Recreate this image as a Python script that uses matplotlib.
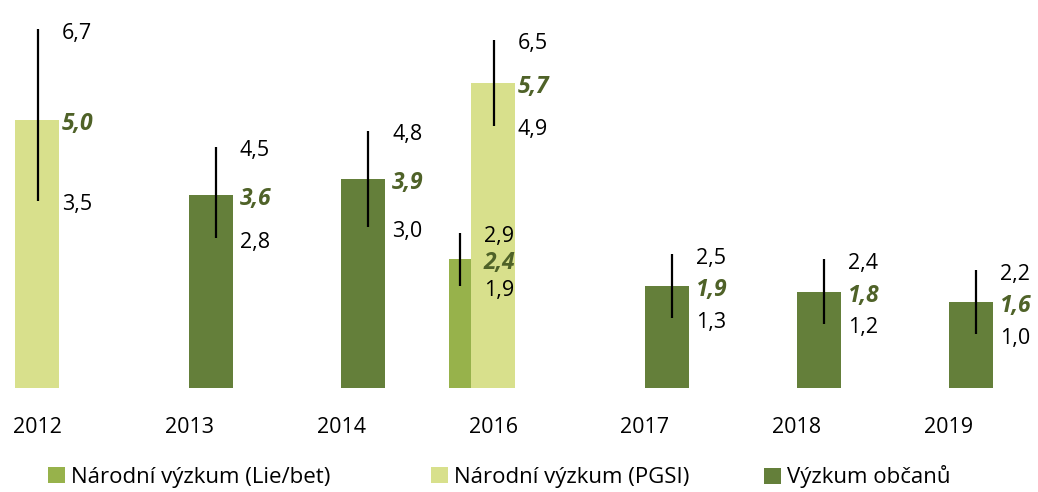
import numpy as np
import matplotlib.pyplot as plt
from matplotlib.patches import Patch

plt.rcParams['font.family'] = ['Open Sans', 'DejaVu Sans']

nan = np.nan
years = ['2012', '2013', '2014', '2016', '2017', '2018', '2019']

# Národní výzkum (Lie/bet)
lie_bet = [nan, nan, nan, 2.4, nan, nan, nan]
lie_bet_lo = [nan, nan, nan, 1.9, nan, nan, nan]
lie_bet_hi = [nan, nan, nan, 2.9, nan, nan, nan]

# Národní výzkum (PGSI)
pgsi = [5.0, nan, nan, 5.7, nan, nan, nan]
pgsi_lo = [3.5, nan, nan, 4.9, nan, nan, nan]
pgsi_hi = [6.7, nan, nan, 6.5, nan, nan, nan]

# Výzkum občanů
obcanu = [nan, 3.6, 3.9, nan, 1.9, 1.8, 1.6]
obcanu_lo = [nan, 2.8, 3.0, nan, 1.3, 1.2, 1.0]
obcanu_hi = [nan, 4.5, 4.8, nan, 2.5, 2.4, 2.2]

names = ['Národní výzkum (Lie/bet)', 'Národní výzkum (PGSI)', 'Výzkum občanů']
colors = ['#97b24b', '#d8e08c', '#647f3a']
label_color = '#4f6228'

px = 1 / 152.0  # one pixel in category units
# (values, lo, hi, bar offset, bar width, errorbar offset) in pixels
series = [
    (lie_bet, lie_bet_lo, lie_bet_hi, -33, 22, -33),
    (pgsi, pgsi_lo, pgsi_hi, 0, 44, 1),
    (obcanu, obcanu_lo, obcanu_hi, 22, 44, 27),
]

fig = plt.figure(figsize=(10.38, 4.92), dpi=100)
ax = fig.add_axes([0, 104 / 492, 1, 375 / 492])

x = np.arange(len(years))
fs = 15.5


def fmt(v):
    return ('%.1f' % v).replace('.', ',')


for (vals, lo, hi, off, w, eoff), col in zip(series, colors):
    vals = np.array(vals)
    lo = np.array(lo)
    hi = np.array(hi)
    m = ~np.isnan(vals)
    ax.bar(x[m] + off * px, vals[m], w * px, color=col, zorder=2)
    ex = x[m] + eoff * px
    ax.errorbar(ex, vals[m], yerr=[vals[m] - lo[m], hi[m] - vals[m]],
                fmt='none', ecolor='black', elinewidth=1.6, capsize=0, zorder=3)
    dy = -0.075
    for xi, v, l, h in zip(ex, vals[m], lo[m], hi[m]):
        tx = xi + 24 * px
        ax.text(tx, h + dy, fmt(h), fontsize=fs, va='center', ha='left', color='black')
        ax.text(tx, v + dy, fmt(v), fontsize=16.5, va='center', ha='left', color=label_color,
                fontweight='bold', fontstyle='italic')
        ax.text(tx, l + dy, fmt(l), fontsize=fs, va='center', ha='left', color='black')

ax.set_xlim(-37 * px, (1038 - 37) * px)
ax.set_ylim(0, 7)
ax.set_xticks(x)
ax.set_xticklabels(years, fontsize=fs)
ax.tick_params(axis='x', length=0, pad=21)
ax.set_yticks([])
for s in ax.spines.values():
    s.set_visible(False)

# one legend entry per column, placed where the reference puts them
for name, col, lx in zip(names, colors, [48, 431, 764]):
    fig.legend([Patch(facecolor=col, edgecolor='none')], [name], loc='center left',
               bbox_to_anchor=(lx / 1038, 1 - 477 / 492), frameon=False, fontsize=16,
               handlelength=0.75, handleheight=0.75, handletextpad=0.3,
               borderaxespad=0, borderpad=0)

fig.savefig('out.png', dpi=100)
